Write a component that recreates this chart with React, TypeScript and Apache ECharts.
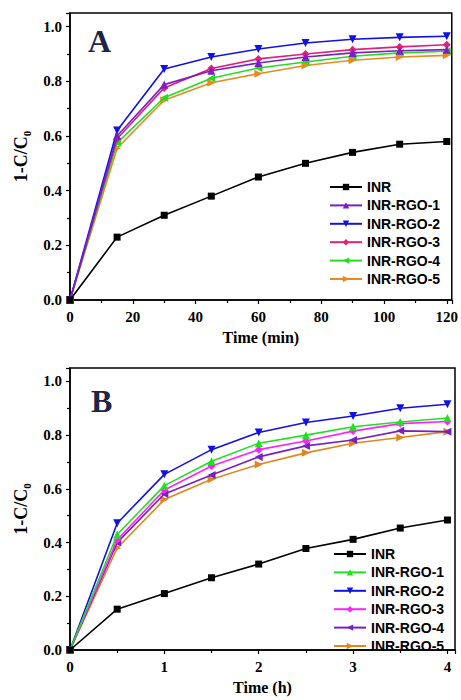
import React, { useEffect, useRef } from "react";
import * as echarts from "echarts";

const seriesNames = ["INR", "INR-RGO-1", "INR-RGO-2", "INR-RGO-3", "INR-RGO-4", "INR-RGO-5"];

const timeA = [0, 15, 30, 45, 60, 75, 90, 105, 120];
const inrA = [0, 0.23, 0.31, 0.38, 0.45, 0.5, 0.54, 0.57, 0.58];
const rgo1A = [0, 0.6, 0.788, 0.839, 0.867, 0.889, 0.904, 0.912, 0.916];
const rgo2A = [0, 0.62, 0.845, 0.889, 0.918, 0.94, 0.954, 0.961, 0.965];
const rgo3A = [0, 0.59, 0.776, 0.847, 0.882, 0.9, 0.916, 0.926, 0.934];
const rgo4A = [0, 0.575, 0.74, 0.811, 0.849, 0.871, 0.892, 0.904, 0.91];
const rgo5A = [0, 0.555, 0.731, 0.795, 0.828, 0.858, 0.877, 0.889, 0.895];

const timeB = [0, 0.5, 1, 1.5, 2, 2.5, 3, 3.5, 4];
const inrB = [0, 0.152, 0.21, 0.269, 0.32, 0.378, 0.412, 0.454, 0.484];
const rgo1B = [0, 0.43, 0.612, 0.703, 0.77, 0.8, 0.831, 0.849, 0.864];
const rgo2B = [0, 0.472, 0.654, 0.746, 0.81, 0.847, 0.871, 0.9, 0.915];
const rgo3B = [0, 0.41, 0.596, 0.685, 0.746, 0.778, 0.815, 0.843, 0.851];
const rgo4B = [0, 0.4, 0.581, 0.652, 0.719, 0.76, 0.782, 0.816, 0.813];
const rgo5B = [0, 0.38, 0.56, 0.636, 0.691, 0.734, 0.77, 0.791, 0.813];

const colorsA = ["#000000", "#7b1fc4", "#1010e8", "#e0207a", "#22dd22", "#e88a1e"];
const colorsB = ["#000000", "#22e022", "#1212e0", "#ff22ff", "#7a20c0", "#e0861e"];

const symbols = [
  { symbol: "rect", rotate: 0, size: 7 },
  { symbol: "triangle", rotate: 0, size: 8 },
  { symbol: "triangle", rotate: 180, size: 8 },
  { symbol: "diamond", rotate: 0, size: 8 },
  { symbol: "triangle", rotate: 90, size: 8 },
  { symbol: "triangle", rotate: -90, size: 8 },
];

const serif = "'Liberation Serif', 'Times New Roman', serif";
const sans = "'Liberation Sans', Arial, sans-serif";

function buildOption(
  times: number[],
  data: number[][],
  colors: string[],
  xMax: number,
  xInterval: number,
  xName: string,
  gridTop: number,
  legendLeft: number,
  legendTop: number,
  letter: string,
  letterX: number,
  letterY: number
) {
  return {
    animation: false,
    backgroundColor: "#ffffff",
    grid: {
      left: 70,
      top: gridTop,
      width: 385,
      height: 288,
      show: true,
      borderColor: "#000",
      borderWidth: 1.5,
      backgroundColor: "transparent",
    },
    legend: {
      orient: "vertical",
      left: legendLeft,
      top: legendTop,
      padding: 0,
      itemWidth: 32,
      itemHeight: 8,
      itemGap: 4.4,
      textStyle: {
        fontFamily: sans,
        fontWeight: "bold",
        fontSize: 14,
        lineHeight: 14,
        color: "#000",
      },
      data: seriesNames,
    },
    xAxis: {
      type: "value",
      min: 0,
      max: xMax,
      interval: xInterval,
      name: xName,
      nameLocation: "middle",
      nameGap: 29,
      nameTextStyle: { fontFamily: serif, fontWeight: "bold", fontSize: 16, color: "#000" },
      axisLine: { show: true, onZero: false, lineStyle: { color: "#000", width: 1.5 } },
      axisTick: { show: true, inside: false, length: 4, lineStyle: { color: "#000", width: 1.2 } },
      minorTick: { show: true, splitNumber: 2, length: 3, lineStyle: { color: "#000", width: 1.2 } },
      splitLine: { show: false },
      axisLabel: {
        showMaxLabel: false,
        margin: 9,
        fontFamily: serif,
        fontWeight: "bold",
        fontSize: 15,
        color: "#000",
      },
    },
    yAxis: {
      type: "value",
      min: 0,
      max: 1.05,
      interval: 0.2,
      name: "{a|1-C/C}{b|0}",
      nameLocation: "middle",
      nameGap: 38,
      nameRotate: 90,
      nameTextStyle: {
        rich: {
          a: { fontFamily: serif, fontWeight: "bold", fontSize: 18, color: "#000", lineHeight: 22 },
          b: { fontFamily: serif, fontWeight: "bold", fontSize: 11, color: "#000", lineHeight: 22, verticalAlign: "bottom" },
        },
      },
      axisLine: { show: true, onZero: false, lineStyle: { color: "#000", width: 1.5 } },
      axisTick: { show: true, inside: false, length: 4, lineStyle: { color: "#000", width: 1.2 } },
      minorTick: { show: true, splitNumber: 2, length: 3, lineStyle: { color: "#000", width: 1.2 } },
      splitLine: { show: false },
      axisLabel: {
        showMaxLabel: false,
        margin: 8,
        fontFamily: serif,
        fontWeight: "bold",
        fontSize: 15,
        color: "#000",
        formatter: (v: number) => v.toFixed(1),
      },
    },
    graphic: [
      {
        type: "text",
        x: letterX,
        y: letterY,
        style: {
          text: letter,
          font: `bold 32px ${serif}`,
          fill: "#1c2546",
          align: "left",
          verticalAlign: "middle",
        },
      },
    ],
    series: data.map((d, i) => ({
      name: seriesNames[i],
      type: "line",
      data: times.map((t, j) => [t, d[j]]),
      symbol: symbols[i].symbol,
      symbolSize: symbols[i].size,
      symbolRotate: symbols[i].rotate,
      showAllSymbol: true,
      z: 10 - i,
      itemStyle: { color: colors[i] },
      lineStyle: { color: colors[i], width: 1.6 },
    })),
  };
}

function Chart({ option, top }: { option: any; top: number }) {
  const ref = useRef<HTMLDivElement>(null);
  useEffect(() => {
    if (!ref.current) return;
    const chart = echarts.init(ref.current, undefined, { renderer: "svg" });
    chart.setOption(option);
    return () => chart.dispose();
  }, [option]);
  return (
    <div
      ref={ref}
      style={{ position: "absolute", left: 0, top, width: 461, height: 350 }}
    />
  );
}

const optionA = buildOption(
  timeA,
  [inrA, rgo1A, rgo2A, rgo3A, rgo4A, rgo5A],
  colorsA,
  121.6,
  20,
  "Time (min)",
  13,
  329,
  180,
  "A",
  88,
  41
);

const optionB = buildOption(
  timeB,
  [inrB, rgo1B, rgo2B, rgo3B, rgo4B, rgo5B],
  colorsB,
  4.08,
  1,
  "Time (h)",
  18,
  333,
  197,
  "B",
  91,
  51
);

export default function App() {
  return (
    <div style={{ position: "absolute", left: 0, top: 0, width: 461, height: 700, background: "#fff" }}>
      <Chart option={optionA} top={0} />
      <Chart option={optionB} top={350} />
    </div>
  );
}
